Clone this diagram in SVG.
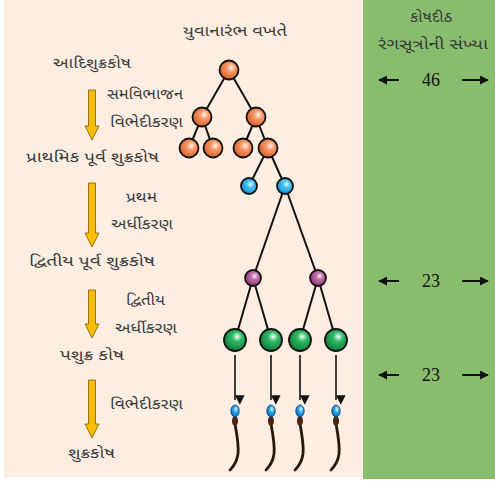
<svg xmlns="http://www.w3.org/2000/svg" width="495" height="482" viewBox="0 0 495 482">
  <style>
    .gu { font-family: "Noto Sans Gujarati", "Noto Sans", "DejaVu Sans", sans-serif; font-size: 14px; fill: #3a3a3a; }
    .num { font-family: "Liberation Serif", serif; font-size: 18px; fill: #111; }
    .edge { stroke: #111; stroke-width: 2; fill: none; }
    .cell { stroke: #111; stroke-width: 1.8; }
    .down { stroke: #111; stroke-width: 1.6; fill: none; }
    .yarrow { fill: #f7bd00; stroke: #7a5a00; stroke-width: 0.8; }
    .count { stroke: #111; stroke-width: 2; fill: none; }
  </style>
  <defs>
    <radialGradient id="gOrange" cx="0.62" cy="0.38" r="0.65">
      <stop offset="0" stop-color="#fff4ea"/>
      <stop offset="0.35" stop-color="#f59a68"/>
      <stop offset="1" stop-color="#d9602a"/>
    </radialGradient>
    <radialGradient id="gBlue" cx="0.6" cy="0.38" r="0.65">
      <stop offset="0" stop-color="#e6fbff"/>
      <stop offset="0.35" stop-color="#48c2f2"/>
      <stop offset="1" stop-color="#0d8fd0"/>
    </radialGradient>
    <radialGradient id="gPurple" cx="0.6" cy="0.38" r="0.65">
      <stop offset="0" stop-color="#fbeaf6"/>
      <stop offset="0.35" stop-color="#c06ea8"/>
      <stop offset="1" stop-color="#8a3472"/>
    </radialGradient>
    <radialGradient id="gGreen" cx="0.6" cy="0.35" r="0.65">
      <stop offset="0" stop-color="#f2fff6"/>
      <stop offset="0.35" stop-color="#2fb866"/>
      <stop offset="1" stop-color="#0b8238"/>
    </radialGradient>
    <radialGradient id="gHead" cx="0.6" cy="0.35" r="0.7">
      <stop offset="0" stop-color="#e6f8ff"/>
      <stop offset="0.4" stop-color="#2aa8ec"/>
      <stop offset="1" stop-color="#0a5fae"/>
    </radialGradient>
    <marker id="headDown" viewBox="0 0 10 10" refX="5" refY="10" markerWidth="6" markerHeight="6" markerUnits="strokeWidth" orient="auto">
      <path d="M0,0 L10,5 L0,10 Z" fill="#111"/>
    </marker>
    <marker id="headCount" viewBox="0 0 10 10" refX="9" refY="5" markerWidth="4.5" markerHeight="4.5" markerUnits="strokeWidth" orient="auto">
      <path d="M0,0 L10,5 L0,10 Z" fill="#111"/>
    </marker>
    <!-- spermatozoon, head centred at origin -->
    <g id="sperm">
      <path d="M0,13 C2,24 4,34 3,43 C2,50 -1,55 -5,59" stroke="#2a1608" stroke-width="2.8" fill="none" stroke-linecap="round"/>
      <ellipse cx="0" cy="10" rx="3" ry="5" fill="#4a2410"/>
      <ellipse cx="0" cy="0" rx="4.2" ry="6" fill="url(#gHead)" stroke="#0b3c70" stroke-width="0.8"/>
    </g>
  </defs>

  <!-- backgrounds -->
  <rect x="4" y="0" width="359" height="477" fill="#fdeee1"/>
  <rect x="363" y="0" width="132" height="479" fill="#87bd6d"/>

  <!-- titles -->
  <text class="gu" x="183" y="36" textLength="104" lengthAdjust="spacingAndGlyphs">યુવાનારંભ વખતે</text>
  <text class="gu" x="410" y="22" textLength="42" lengthAdjust="spacingAndGlyphs">કોષદીઠ</text>
  <text class="gu" x="378" y="49" textLength="110" lengthAdjust="spacingAndGlyphs">રંગસૂત્રોની સંખ્યા</text>

  <!-- stage labels -->
  <g id="stages">
    <text class="gu" x="53" y="68" textLength="78" lengthAdjust="spacingAndGlyphs">આદિશુક્રકોષ</text>
    <text class="gu" x="107" y="99" textLength="76" lengthAdjust="spacingAndGlyphs">સમવિભાજન</text>
    <text class="gu" x="110" y="127" textLength="73" lengthAdjust="spacingAndGlyphs">વિભેદીકરણ</text>
    <text class="gu" x="26" y="162" textLength="133" lengthAdjust="spacingAndGlyphs">પ્રાથમિક પૂર્વ શુક્રકોષ</text>
    <text class="gu" x="126" y="202" textLength="31" lengthAdjust="spacingAndGlyphs">પ્રથમ</text>
    <text class="gu" x="111" y="229" textLength="62" lengthAdjust="spacingAndGlyphs">અર્ધીકરણ</text>
    <text class="gu" x="29" y="266" textLength="126" lengthAdjust="spacingAndGlyphs">દ્વિતીય પૂર્વ શુક્રકોષ</text>
    <text class="gu" x="126" y="305" textLength="39" lengthAdjust="spacingAndGlyphs">દ્વિતીય</text>
    <text class="gu" x="115" y="333" textLength="62" lengthAdjust="spacingAndGlyphs">અર્ધીકરણ</text>
    <text class="gu" x="60" y="360" textLength="64" lengthAdjust="spacingAndGlyphs">પશુક્ર કોષ</text>
    <text class="gu" x="110" y="409" textLength="73" lengthAdjust="spacingAndGlyphs">વિભેદીકરણ</text>
    <text class="gu" x="68" y="458" textLength="47" lengthAdjust="spacingAndGlyphs">શુક્રકોષ</text>
  </g>

  <!-- yellow process arrows -->
  <g id="process-arrows">
    <path class="yarrow" d="M88.5,90 H95.5 V126 H99 L92,140 L85,126 H88.5 Z"/>
    <path class="yarrow" d="M88.5,183 H95.5 V233 H99 L92,247 L85,233 H88.5 Z"/>
    <path class="yarrow" d="M88.5,290 H95.5 V324 H99 L92,338 L85,324 H88.5 Z"/>
    <path class="yarrow" d="M88.5,380 H95.5 V424 H99 L92,438 L85,424 H88.5 Z"/>
  </g>

  <!-- chromosome counts -->
  <g id="counts">
    <line class="count" x1="399" y1="80" x2="379" y2="80" marker-end="url(#headCount)"/>
    <text class="num" x="431" y="86" text-anchor="middle">46</text>
    <line class="count" x1="462" y1="80" x2="488" y2="80" marker-end="url(#headCount)"/>

    <line class="count" x1="399" y1="281" x2="379" y2="281" marker-end="url(#headCount)"/>
    <text class="num" x="431" y="287" text-anchor="middle">23</text>
    <line class="count" x1="462" y1="281" x2="488" y2="281" marker-end="url(#headCount)"/>

    <line class="count" x1="399" y1="375" x2="379" y2="375" marker-end="url(#headCount)"/>
    <text class="num" x="431" y="381" text-anchor="middle">23</text>
    <line class="count" x1="462" y1="375" x2="488" y2="375" marker-end="url(#headCount)"/>
  </g>

  <!-- lineage connectors -->
  <g id="connectors">
    <line class="edge" x1="229" y1="70" x2="202" y2="117"/>
    <line class="edge" x1="229" y1="70" x2="256" y2="117"/>
    <line class="edge" x1="202" y1="117" x2="189" y2="148"/>
    <line class="edge" x1="202" y1="117" x2="213" y2="148"/>
    <line class="edge" x1="256" y1="117" x2="243" y2="148"/>
    <line class="edge" x1="256" y1="117" x2="268" y2="148"/>
    <line class="edge" x1="268" y1="148" x2="249" y2="186"/>
    <line class="edge" x1="268" y1="148" x2="285" y2="186"/>
    <line class="edge" x1="285" y1="186" x2="253" y2="278"/>
    <line class="edge" x1="285" y1="186" x2="318" y2="278"/>
    <line class="edge" x1="253" y1="278" x2="235" y2="340"/>
    <line class="edge" x1="253" y1="278" x2="271" y2="340"/>
    <line class="edge" x1="318" y1="278" x2="300" y2="340"/>
    <line class="edge" x1="318" y1="278" x2="336" y2="340"/>
    <line class="down" x1="235" y1="355" x2="235" y2="400" marker-end="url(#headDown)"/>
    <line class="down" x1="271" y1="355" x2="271" y2="400" marker-end="url(#headDown)"/>
    <line class="down" x1="300" y1="355" x2="300" y2="400" marker-end="url(#headDown)"/>
    <line class="down" x1="336" y1="355" x2="336" y2="400" marker-end="url(#headDown)"/>
  </g>

  <!-- spermatogonium -->
  <g id="spermatogonium"><circle class="cell" cx="229" cy="70" r="9.5" fill="url(#gOrange)"/></g>
  <g id="mitosis-1">
    <circle class="cell" cx="202" cy="117" r="9.5" fill="url(#gOrange)"/>
    <circle class="cell" cx="256" cy="117" r="9.5" fill="url(#gOrange)"/>
  </g>
  <g id="primary-spermatocytes">
    <circle class="cell" cx="189" cy="148" r="9.5" fill="url(#gOrange)"/>
    <circle class="cell" cx="213" cy="148" r="9.5" fill="url(#gOrange)"/>
    <circle class="cell" cx="243" cy="148" r="9.5" fill="url(#gOrange)"/>
    <circle class="cell" cx="268" cy="148" r="9.5" fill="url(#gOrange)"/>
  </g>
  <g id="meiosis-1">
    <circle class="cell" cx="249" cy="186" r="8" fill="url(#gBlue)"/>
    <circle class="cell" cx="285" cy="186" r="8" fill="url(#gBlue)"/>
  </g>
  <g id="secondary-spermatocytes">
    <circle class="cell" cx="253" cy="278" r="8" fill="url(#gPurple)"/>
    <circle class="cell" cx="318" cy="278" r="8" fill="url(#gPurple)"/>
  </g>
  <g id="spermatids">
    <circle class="cell" cx="235" cy="340" r="11" fill="url(#gGreen)"/>
    <circle class="cell" cx="271" cy="340" r="11" fill="url(#gGreen)"/>
    <circle class="cell" cx="300" cy="340" r="11" fill="url(#gGreen)"/>
    <circle class="cell" cx="336" cy="340" r="11" fill="url(#gGreen)"/>
  </g>
  <g id="spermatozoa">
    <use href="#sperm" x="235" y="411"/>
    <use href="#sperm" x="271" y="411"/>
    <use href="#sperm" x="300" y="411"/>
    <use href="#sperm" x="336" y="411"/>
  </g>
</svg>
